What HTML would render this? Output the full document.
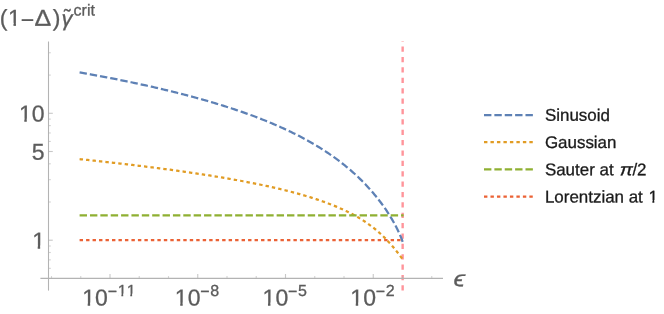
<!DOCTYPE html>
<html><head><meta charset="utf-8"><title>plot</title><style>html,body{margin:0;padding:0;background:#fff}</style></head><body>
<svg width="664" height="314" viewBox="0 0 664 314" style="display:block;will-change:transform">
<rect width="100%" height="100%" fill="#fff"/>
<g fill="none" stroke-width="2.25">
<path d="M402.65 290.6 V41" stroke="#FF949B" stroke-width="2.4" stroke-dasharray="5.25 5.13"/>
<path d="M79.60 72.37 L80.95 72.61 L82.31 72.85 L83.66 73.09 L85.01 73.33 L86.37 73.57 L87.72 73.82 L89.07 74.06 L90.43 74.31 L91.78 74.56 L93.13 74.81 L94.48 75.06 L95.84 75.31 L97.19 75.56 L98.54 75.81 L99.90 76.06 L101.25 76.32 L102.60 76.58 L103.96 76.83 L105.31 77.09 L106.66 77.35 L108.02 77.61 L109.37 77.87 L110.72 78.14 L112.08 78.40 L113.43 78.67 L114.78 78.93 L116.13 79.20 L117.49 79.47 L118.84 79.74 L120.19 80.01 L121.55 80.29 L122.90 80.56 L124.25 80.84 L125.61 81.11 L126.96 81.39 L128.31 81.67 L129.67 81.95 L131.02 82.24 L132.37 82.52 L133.73 82.81 L135.08 83.09 L136.43 83.38 L137.78 83.67 L139.14 83.96 L140.49 84.26 L141.84 84.55 L143.20 84.85 L144.55 85.14 L145.90 85.44 L147.26 85.74 L148.61 86.04 L149.96 86.35 L151.32 86.65 L152.67 86.96 L154.02 87.27 L155.38 87.58 L156.73 87.89 L158.08 88.20 L159.44 88.52 L160.79 88.84 L162.14 89.15 L163.49 89.47 L164.85 89.80 L166.20 90.12 L167.55 90.45 L168.91 90.77 L170.26 91.10 L171.61 91.43 L172.97 91.77 L174.32 92.10 L175.67 92.44 L177.03 92.78 L178.38 93.12 L179.73 93.46 L181.09 93.81 L182.44 94.16 L183.79 94.50 L185.14 94.86 L186.50 95.21 L187.85 95.57 L189.20 95.92 L190.56 96.28 L191.91 96.65 L193.26 97.01 L194.62 97.38 L195.97 97.75 L197.32 98.12 L198.68 98.49 L200.03 98.87 L201.38 99.25 L202.74 99.63 L204.09 100.01 L205.44 100.40 L206.79 100.79 L208.15 101.18 L209.50 101.57 L210.85 101.97 L212.21 102.37 L213.56 102.77 L214.91 103.17 L216.27 103.58 L217.62 103.99 L218.97 104.41 L220.33 104.82 L221.68 105.24 L223.03 105.66 L224.39 106.09 L225.74 106.52 L227.09 106.95 L228.45 107.38 L229.80 107.82 L231.15 108.26 L232.50 108.71 L233.86 109.16 L235.21 109.61 L236.56 110.06 L237.92 110.52 L239.27 110.98 L240.62 111.45 L241.98 111.92 L243.33 112.39 L244.68 112.87 L246.04 113.35 L247.39 113.83 L248.74 114.32 L250.10 114.81 L251.45 115.31 L252.80 115.81 L254.15 116.31 L255.51 116.82 L256.86 117.34 L258.21 117.85 L259.57 118.38 L260.92 118.90 L262.27 119.43 L263.63 119.97 L264.98 120.51 L266.33 121.06 L267.69 121.61 L269.04 122.16 L270.39 122.72 L271.75 123.29 L273.10 123.86 L274.45 124.44 L275.81 125.02 L277.16 125.61 L278.51 126.20 L279.86 126.80 L281.22 127.41 L282.57 128.02 L283.92 128.64 L285.28 129.26 L286.63 129.89 L287.98 130.53 L289.34 131.17 L290.69 131.82 L292.04 132.48 L293.40 133.14 L294.75 133.81 L296.10 134.49 L297.46 135.18 L298.81 135.87 L300.16 136.57 L301.51 137.28 L302.87 138.00 L304.22 138.72 L305.57 139.46 L306.93 140.20 L308.28 140.95 L309.63 141.71 L310.99 142.48 L312.34 143.26 L313.69 144.05 L315.05 144.85 L316.40 145.65 L317.75 146.47 L319.11 147.30 L320.46 148.14 L321.81 148.99 L323.16 149.85 L324.52 150.73 L325.87 151.61 L327.22 152.51 L328.58 153.42 L329.93 154.34 L331.28 155.28 L332.64 156.22 L333.99 157.19 L335.34 158.16 L336.70 159.15 L338.05 160.16 L339.40 161.18 L340.76 162.21 L342.11 163.26 L343.46 164.33 L344.82 165.41 L346.17 166.52 L347.52 167.63 L348.87 168.77 L350.23 169.93 L351.58 171.10 L352.93 172.30 L354.29 173.51 L355.64 174.75 L356.99 176.01 L358.35 177.29 L359.70 178.59 L361.05 179.92 L362.41 181.27 L363.76 182.64 L365.11 184.04 L366.47 185.47 L367.82 186.93 L369.17 188.41 L370.52 189.93 L371.88 191.48 L373.23 193.05 L374.58 194.67 L375.94 196.31 L377.29 197.99 L378.64 199.72 L380.00 201.48 L381.35 203.28 L382.70 205.13 L384.06 207.02 L385.41 208.97 L386.76 210.97 L388.12 213.03 L389.47 215.15 L390.82 217.34 L392.17 219.61 L393.53 221.96 L394.88 224.41 L396.23 226.98 L397.59 229.68 L398.94 232.54 L400.29 235.62 L401.65 238.99 L403.00 242.78" stroke="#5E81B5" stroke-dasharray="7.4 2.97"/>
<path d="M79.60 159.15 L80.95 159.29 L82.30 159.43 L83.65 159.57 L85.01 159.71 L86.36 159.85 L87.71 159.99 L89.06 160.14 L90.41 160.28 L91.76 160.42 L93.11 160.57 L94.47 160.71 L95.82 160.85 L97.17 161.00 L98.52 161.15 L99.87 161.29 L101.22 161.44 L102.57 161.59 L103.93 161.73 L105.28 161.88 L106.63 162.03 L107.98 162.18 L109.33 162.33 L110.68 162.48 L112.04 162.63 L113.39 162.78 L114.74 162.94 L116.09 163.09 L117.44 163.24 L118.79 163.40 L120.14 163.55 L121.50 163.71 L122.85 163.86 L124.20 164.02 L125.55 164.17 L126.90 164.33 L128.25 164.49 L129.60 164.65 L130.96 164.81 L132.31 164.97 L133.66 165.13 L135.01 165.29 L136.36 165.45 L137.71 165.61 L139.06 165.78 L140.42 165.94 L141.77 166.11 L143.12 166.27 L144.47 166.44 L145.82 166.61 L147.17 166.77 L148.52 166.94 L149.88 167.11 L151.23 167.28 L152.58 167.45 L153.93 167.62 L155.28 167.80 L156.63 167.97 L157.98 168.14 L159.34 168.32 L160.69 168.49 L162.04 168.67 L163.39 168.85 L164.74 169.02 L166.09 169.20 L167.45 169.38 L168.80 169.56 L170.15 169.74 L171.50 169.93 L172.85 170.11 L174.20 170.29 L175.55 170.48 L176.91 170.66 L178.26 170.85 L179.61 171.04 L180.96 171.23 L182.31 171.42 L183.66 171.61 L185.01 171.80 L186.37 171.99 L187.72 172.19 L189.07 172.38 L190.42 172.58 L191.77 172.78 L193.12 172.98 L194.47 173.17 L195.83 173.38 L197.18 173.58 L198.53 173.78 L199.88 173.98 L201.23 174.19 L202.58 174.40 L203.93 174.60 L205.29 174.81 L206.64 175.02 L207.99 175.23 L209.34 175.45 L210.69 175.66 L212.04 175.88 L213.39 176.09 L214.75 176.31 L216.10 176.53 L217.45 176.75 L218.80 176.98 L220.15 177.20 L221.50 177.43 L222.86 177.65 L224.21 177.88 L225.56 178.11 L226.91 178.34 L228.26 178.58 L229.61 178.81 L230.96 179.05 L232.32 179.29 L233.67 179.53 L235.02 179.77 L236.37 180.01 L237.72 180.26 L239.07 180.50 L240.42 180.75 L241.78 181.00 L243.13 181.26 L244.48 181.51 L245.83 181.77 L247.18 182.03 L248.53 182.29 L249.88 182.55 L251.24 182.82 L252.59 183.08 L253.94 183.35 L255.29 183.62 L256.64 183.90 L257.99 184.17 L259.34 184.45 L260.70 184.73 L262.05 185.02 L263.40 185.30 L264.75 185.59 L266.10 185.88 L267.45 186.18 L268.81 186.47 L270.16 186.77 L271.51 187.07 L272.86 187.38 L274.21 187.69 L275.56 188.00 L276.91 188.31 L278.27 188.63 L279.62 188.95 L280.97 189.27 L282.32 189.60 L283.67 189.93 L285.02 190.27 L286.37 190.60 L287.73 190.94 L289.08 191.29 L290.43 191.64 L291.78 191.99 L293.13 192.35 L294.48 192.71 L295.83 193.07 L297.19 193.44 L298.54 193.82 L299.89 194.19 L301.24 194.58 L302.59 194.97 L303.94 195.36 L305.29 195.75 L306.65 196.16 L308.00 196.57 L309.35 196.98 L310.70 197.40 L312.05 197.82 L313.40 198.25 L314.75 198.69 L316.11 199.13 L317.46 199.58 L318.81 200.04 L320.16 200.50 L321.51 200.97 L322.86 201.44 L324.22 201.93 L325.57 202.42 L326.92 202.92 L328.27 203.43 L329.62 203.94 L330.97 204.47 L332.32 205.00 L333.68 205.54 L335.03 206.09 L336.38 206.66 L337.73 207.23 L339.08 207.81 L340.43 208.41 L341.78 209.01 L343.14 209.63 L344.49 210.26 L345.84 210.90 L347.19 211.55 L348.54 212.22 L349.89 212.91 L351.24 213.60 L352.60 214.32 L353.95 215.04 L355.30 215.79 L356.65 216.55 L358.00 217.33 L359.35 218.13 L360.70 218.95 L362.06 219.79 L363.41 220.65 L364.76 221.53 L366.11 222.44 L367.46 223.37 L368.81 224.32 L370.16 225.30 L371.52 226.31 L372.87 227.34 L374.22 228.41 L375.57 229.50 L376.92 230.63 L378.27 231.79 L379.63 232.98 L380.98 234.21 L382.33 235.47 L383.68 236.78 L385.03 238.12 L386.38 239.50 L387.73 240.92 L389.09 242.39 L390.44 243.89 L391.79 245.44 L393.14 247.03 L394.49 248.66 L395.84 250.33 L397.19 252.05 L398.55 253.80 L399.90 255.59 L401.25 257.42 L402.60 259.29" stroke="#E19C24" stroke-dasharray="3.4 3.08"/>
<path d="M79.60 215.31 H403.60" stroke="#8FB032" stroke-dasharray="7.4 2.97"/>
<path d="M79.60 240.00 H402.60" stroke="#EB6235" stroke-dasharray="3.4 3.08"/>
</g>
<g stroke="#b3b3b3" stroke-width="1.1" fill="none">
<path d="M48.50 41.5 V290.6"/>
<path d="M40.4 278.40 H443"/>
<path d="M48.50 268.35 h2.3" stroke-opacity="0.58"/>
<path d="M48.50 259.86 h2.3" stroke-opacity="0.58"/>
<path d="M48.50 252.50 h2.3" stroke-opacity="0.58"/>
<path d="M48.50 246.01 h2.3" stroke-opacity="0.58"/>
<path d="M48.50 240.20 h4.3" stroke-opacity="0.72"/>
<path d="M48.50 202.00 h2.3" stroke-opacity="0.58"/>
<path d="M48.50 179.65 h2.3" stroke-opacity="0.58"/>
<path d="M48.50 163.80 h2.3" stroke-opacity="0.58"/>
<path d="M48.50 151.50 h4.3" stroke-opacity="0.72"/>
<path d="M48.50 141.45 h2.3" stroke-opacity="0.58"/>
<path d="M48.50 132.96 h2.3" stroke-opacity="0.58"/>
<path d="M48.50 125.60 h2.3" stroke-opacity="0.58"/>
<path d="M48.50 119.11 h2.3" stroke-opacity="0.58"/>
<path d="M48.50 113.30 h4.3" stroke-opacity="0.72"/>
<path d="M48.50 75.10 h2.3" stroke-opacity="0.58"/>
<path d="M48.50 52.75 h2.3" stroke-opacity="0.58"/>
<path d="M51.50 278.40 v-2.3" stroke-opacity="0.58"/>
<path d="M80.75 278.40 v-2.3" stroke-opacity="0.58"/>
<path d="M110.00 278.40 v-4.4" stroke-opacity="0.72"/>
<path d="M139.25 278.40 v-2.3" stroke-opacity="0.58"/>
<path d="M168.50 278.40 v-2.3" stroke-opacity="0.58"/>
<path d="M197.75 278.40 v-4.4" stroke-opacity="0.72"/>
<path d="M227.00 278.40 v-2.3" stroke-opacity="0.58"/>
<path d="M256.25 278.40 v-2.3" stroke-opacity="0.58"/>
<path d="M285.50 278.40 v-4.4" stroke-opacity="0.72"/>
<path d="M314.75 278.40 v-2.3" stroke-opacity="0.58"/>
<path d="M344.00 278.40 v-2.3" stroke-opacity="0.58"/>
<path d="M373.25 278.40 v-4.4" stroke-opacity="0.72"/>
<path d="M402.50 278.40 v-2.3" stroke-opacity="0.58"/>
<path d="M431.75 278.40 v-2.3" stroke-opacity="0.58"/>
</g>
<g fill="none" stroke-width="2.25">
<path d="M484 115.00 H533.3" stroke="#5E81B5" stroke-dasharray="7.4 2.97"/>
<path d="M484 142.20 H533.3" stroke="#E19C24" stroke-dasharray="3.4 3.08"/>
<path d="M484 169.40 H533.3" stroke="#8FB032" stroke-dasharray="7.4 2.97"/>
<path d="M484 196.60 H533.3" stroke="#EB6235" stroke-dasharray="3.4 3.08"/>
</g>
<g font-family="Liberation Sans, sans-serif" font-size="16.95" fill="#1a1a1a" stroke="#1a1a1a" stroke-width="0.3" style="font-kerning:none">
<text transform="translate(544.90 120.85) rotate(0.03) scale(1.000 1.000)" >Sinusoid</text>
<text transform="translate(544.90 148.05) rotate(0.03) scale(1.000 1.000)" >Gaussian</text>
<text transform="translate(544.90 175.25) rotate(0.03) scale(1.000 1.000)" >Sauter at</text>
<text transform="translate(544.90 202.45) rotate(0.03) scale(1.000 1.000)" >Lorentzian at</text>
<text transform="translate(619.70 175.25) rotate(0.03) scale(1.160 1.000)" font-style="italic">π</text>
<text transform="translate(632.40 175.25) rotate(0.03) scale(1.000 1.000)" >/2</text>
<text transform="translate(648.51 202.45) rotate(0.03) scale(1.000 1.000)" >1</text>
</g>
<g font-family="Liberation Sans, sans-serif" font-size="23" fill="#5c5c5c" stroke="#5c5c5c" stroke-width="0.3" style="font-kerning:none">
<text transform="translate(18.92 121.50) rotate(0.03) scale(1.000 1.000)" >10</text>
<text transform="translate(31.71 159.70) rotate(0.03) scale(1.000 1.000)" >5</text>
<text transform="translate(32.31 248.40) rotate(0.03) scale(1.000 1.000)" >1</text>
<text transform="translate(82.30 305.50) rotate(0.03) scale(1.000 1.000)" >10</text>
<text transform="translate(107.80 296.70) rotate(0.03) scale(1.000 1.000)" font-size="16">−</text>
<text transform="translate(117.75 296.00) rotate(0.03) scale(1.000 1.000)" font-size="16">11</text>
<text transform="translate(174.85 305.50) rotate(0.03) scale(1.000 1.000)" >10</text>
<text transform="translate(200.35 296.70) rotate(0.03) scale(1.000 1.000)" font-size="16">−</text>
<text transform="translate(210.30 296.00) rotate(0.03) scale(1.000 1.000)" font-size="16">8</text>
<text transform="translate(262.60 305.50) rotate(0.03) scale(1.000 1.000)" >10</text>
<text transform="translate(288.10 296.70) rotate(0.03) scale(1.000 1.000)" font-size="16">−</text>
<text transform="translate(298.05 296.00) rotate(0.03) scale(1.000 1.000)" font-size="16">5</text>
<text transform="translate(350.35 305.50) rotate(0.03) scale(1.000 1.000)" >10</text>
<text transform="translate(375.85 296.70) rotate(0.03) scale(1.000 1.000)" font-size="16">−</text>
<text transform="translate(385.80 296.00) rotate(0.03) scale(1.000 1.000)" font-size="16">2</text>
<text transform="translate(-0.20 25.70) rotate(0.03) scale(1.000 1.000)" >(</text>
<text transform="translate(8.10 25.70) rotate(0.03) scale(1.000 1.000)" >1</text>
<text transform="translate(20.65 27.70) rotate(0.03) scale(1.000 1.000)" >−</text>
<text transform="translate(34.50 25.70) rotate(0.03) scale(1.090 1.000)" >Δ</text>
<text transform="translate(52.70 25.70) rotate(0.03) scale(1.000 1.000)" >)</text>
<text transform="translate(61.50 25.70) rotate(0.03) scale(1.000 1.000)" font-style="italic" font-size="22">γ</text>
<text transform="translate(64.00 23.20) rotate(0.03) scale(1.000 1.000)" font-size="20">˜</text>
<text transform="translate(73.40 15.60) rotate(0.03) scale(1.000 1.000)" font-size="16" letter-spacing="0.1">crit</text>
<text transform="translate(453.60 286.20) rotate(0.03) scale(1.170 1.000)" font-style="italic" font-size="22.5">ϵ</text>
</g>
<g fill="#fff"><rect x="649.02" y="200.03" width="3.35" height="4.07"/><rect x="654.30" y="200.03" width="3.83" height="4.07"/><rect x="19.61" y="118.63" width="4.69" height="4.52"/><rect x="26.77" y="118.63" width="5.25" height="4.52"/><rect x="33.00" y="245.53" width="4.69" height="4.52"/><rect x="40.16" y="245.53" width="5.25" height="4.52"/><rect x="82.99" y="302.63" width="4.69" height="4.52"/><rect x="90.15" y="302.63" width="5.25" height="4.52"/><rect x="118.23" y="293.65" width="3.14" height="4.00"/><rect x="123.22" y="293.65" width="3.61" height="4.00"/><rect x="127.13" y="293.65" width="3.14" height="4.00"/><rect x="132.12" y="293.65" width="3.61" height="4.00"/><rect x="175.54" y="302.63" width="4.69" height="4.52"/><rect x="182.70" y="302.63" width="5.25" height="4.52"/><rect x="263.29" y="302.63" width="4.69" height="4.52"/><rect x="270.45" y="302.63" width="5.25" height="4.52"/><rect x="351.04" y="302.63" width="4.69" height="4.52"/><rect x="358.20" y="302.63" width="5.25" height="4.52"/><rect x="8.79" y="22.83" width="4.69" height="4.52"/><rect x="15.95" y="22.83" width="5.25" height="4.52"/></g>
</svg>
</body></html>
